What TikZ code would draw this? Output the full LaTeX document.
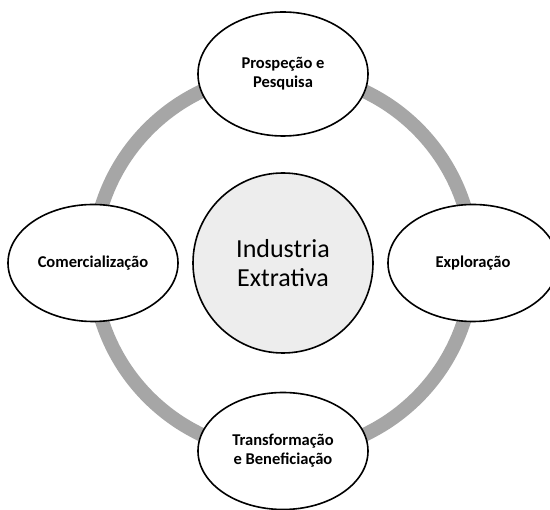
\documentclass[tikz,border=0pt]{standalone}
\usepackage{fontspec}
\setmainfont{Carlito}
\usetikzlibrary{shapes.geometric}

\begin{document}
\begin{tikzpicture}[x=1pt,y=-1pt,
	etapa/.style={ellipse, draw, line width=1.6pt, fill=white, minimum width=170pt, minimum height=117pt, inner sep=0pt, align=center, font=\fontsize{16.5}{19}\selectfont\bfseries},
	nucleo/.style={circle, draw, line width=1.6pt, fill=black!7, minimum size=180pt, inner sep=0pt, align=center, font=\fontsize{26}{29}\selectfont}]
\useasboundingbox (0,0) rectangle (550,510);
\coordinate (c) at (283,263);

% anel
\draw[line width=14pt, black!35] (c) circle (190pt);

\node[nucleo] (ie) at (c) {Industria\\Extrativa};

\node[etapa, minimum height=124pt] (pp) at (283,74) {Prospeção e\\Pesquisa};
\node[etapa] (ex) at (473,263) {Exploração};
\node[etapa] (tb) at (283,451) {Transformação\\e Beneficiação};
\node[etapa] (co) at (93,263) {Comercialização};
\end{tikzpicture}
\end{document}
